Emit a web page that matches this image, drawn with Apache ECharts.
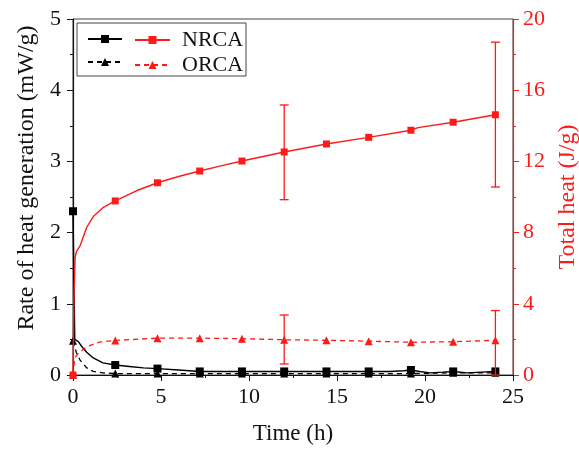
<!DOCTYPE html>
<html>
<head>
<meta charset="utf-8">
<script src="https://cdn.jsdelivr.net/npm/echarts@6/dist/echarts.min.js"></script>
<style>
html,body{margin:0;padding:0;background:#fff;}
#c{width:579px;height:451px;}
</style>
</head>
<body>
<div id="c"></div>
<script>
// ---- data ----
var markerTimes = [0, 2.4, 4.8, 7.2, 9.6, 12, 14.4, 16.8, 19.2, 21.6, 24];

var nrcaRateT = [0, 0.1, 0.17, 0.3, 0.5, 0.78, 1.15, 1.7, 2.4, 3.2, 4.0, 4.8, 6.0, 7.2, 8.4, 9.6, 10.8, 12, 13.2, 14.4, 15.6, 16.8, 18.0, 18.8, 19.2, 19.7, 20.3, 21.0, 21.6, 22.4, 23.2, 24];
var nrcaRateV = [2.3, 0.5, 0.52, 0.47, 0.4, 0.32, 0.24, 0.17, 0.14, 0.12, 0.1, 0.09, 0.07, 0.05, 0.05, 0.05, 0.05, 0.05, 0.05, 0.05, 0.05, 0.05, 0.05, 0.06, 0.07, 0.05, 0.03, 0.04, 0.05, 0.03, 0.04, 0.05];

var orcaRateT = [0, 0.2, 0.4, 0.78, 1.15, 1.7, 2.4, 4.8, 7.2, 9.6, 12, 14.4, 16.8, 19.2, 21.6, 24];
var orcaRateV = [0.48, 0.31, 0.21, 0.1, 0.05, 0.03, 0.02, 0.02, 0.02, 0.02, 0.02, 0.02, 0.02, 0.02, 0.03, 0.03];

var nrcaHeatT = [0, 0.05, 0.12, 0.2, 0.4, 0.78, 1.15, 1.7, 2.4, 3.6, 4.8, 6.0, 7.2, 8.4, 9.6, 12, 14.4, 16.8, 19.2, 19.6, 21.6, 24];
var nrcaHeatV = [0, 4.2, 6.6, 6.95, 7.25, 8.3, 8.9, 9.4, 9.78, 10.35, 10.8, 11.15, 11.46, 11.75, 12.02, 12.53, 12.98, 13.35, 13.75, 13.9, 14.2, 14.62];

var orcaHeatT = [0, 0.1, 0.3, 0.78, 1.5, 2.4, 4.8, 7.2, 9.6, 12, 14.4, 16.8, 19.2, 21.6, 24];
var orcaHeatV = [0, 0.95, 1.22, 1.59, 1.85, 1.94, 2.07, 2.07, 2.04, 1.98, 1.95, 1.9, 1.84, 1.87, 1.95];

// error bars: time, low, high (total heat)
var nrcaErrT = [12, 24];
var nrcaErrLow = [9.85, 10.56];
var nrcaErrHigh = [15.17, 18.7];
var orcaErrT = [12, 24];
var orcaErrLow = [0.62, 0];
var orcaErrHigh = [3.37, 3.62];

// ---- build ----
function pts(ts, vs) {
  return ts.map(function (t, i) {
    var d = { value: [t, vs[i]] };
    if (markerTimes.indexOf(t) < 0) d.symbol = 'none';
    return d;
  });
}
function errs(ts, lo, hi) {
  return ts.map(function (t, i) { return [t, lo[i], hi[i]]; });
}
var FONT = 'Liberation Serif';
var RED = '#ff1a1a';

function errRender(params, api) {
  var x = api.value(0);
  var pLo = api.coord([x, api.value(1)]);
  var pHi = api.coord([x, api.value(2)]);
  var w = 4.5;
  var st = { stroke: RED, lineWidth: 1.3 };
  return {
    type: 'group',
    children: [
      { type: 'line', shape: { x1: pLo[0], y1: pLo[1], x2: pHi[0], y2: pHi[1] }, style: st },
      { type: 'line', shape: { x1: pHi[0] - w, y1: pHi[1], x2: pHi[0] + w, y2: pHi[1] }, style: st },
      { type: 'line', shape: { x1: pLo[0] - w, y1: pLo[1], x2: pLo[0] + w, y2: pLo[1] }, style: st }
    ]
  };
}

var chart = echarts.init(document.getElementById('c'), null, { renderer: 'canvas' });
var option = {
  animation: false,
  backgroundColor: '#fff',
  textStyle: { fontFamily: FONT },
  grid: { left: 73, right: 66, top: 19, bottom: 76, outerBoundsMode: 'none', containLabel: false, show: true, borderColor: '#444', borderWidth: 1, backgroundColor: 'transparent' },
  legend: [
    {
      data: ['NRCA rate', 'ORCA rate'],
      orient: 'vertical', left: 77, top: 23,
      padding: [12, 119, 10, 10],
      itemWidth: 34, itemHeight: 10, itemGap: 15,
      borderColor: '#444', borderWidth: 1,
      selectedMode: false,
      formatter: function () { return ''; },
      textStyle: { fontSize: 10, lineHeight: 10, fontFamily: FONT }
    },
    {
      data: ['NRCA', 'ORCA'],
      orient: 'vertical', left: 130, top: 23,
      padding: [6, 4, 4, 4],
      itemWidth: 35, itemHeight: 10, itemGap: 3,
      selectedMode: false,
      textStyle: { fontSize: 22, lineHeight: 22, fontFamily: FONT, color: '#111', padding: [0, 0, 0, 7] }
    }
  ],
  xAxis: {
    type: 'value', min: 0, max: 25, interval: 5,
    name: 'Time (h)', nameLocation: 'middle', nameGap: 47,
    nameTextStyle: { fontSize: 23, fontFamily: FONT, color: '#111' },
    axisLine: { lineStyle: { color: '#111', width: 1.2 } },
    axisTick: { show: true, inside: false, length: 6, lineStyle: { color: '#111' } },
    minorTick: { show: true, splitNumber: 2, length: 3, lineStyle: { color: '#111' } },
    axisLabel: { fontSize: 22, fontFamily: FONT, color: '#111', margin: 11 },
    splitLine: { show: false }
  },
  yAxis: [
    {
      type: 'value', min: 0, max: 5, interval: 1, position: 'left',
      name: 'Rate of heat generation (mW/g)', nameLocation: 'middle', nameGap: 32,
      nameTextStyle: { fontSize: 24, fontFamily: FONT, color: '#111', padding: [0, 0, 0, 38] },
      axisLine: { show: true, lineStyle: { color: '#111', width: 1.2 } },
      axisTick: { show: true, inside: false, length: 6, lineStyle: { color: '#111' } },
      minorTick: { show: true, splitNumber: 2, length: 3, lineStyle: { color: '#111' } },
      axisLabel: { fontSize: 22, fontFamily: FONT, color: '#111', margin: 12 },
      splitLine: { show: false }
    },
    {
      type: 'value', min: 0, max: 20, interval: 4, position: 'right',
      name: 'Total heat (J/g)', nameLocation: 'middle', nameGap: 42,
      nameTextStyle: { fontSize: 24, fontFamily: FONT, color: RED },
      axisLine: { show: true, lineStyle: { color: RED, width: 1.2 } },
      axisTick: { show: true, inside: false, length: 6, lineStyle: { color: RED } },
      minorTick: { show: true, splitNumber: 2, length: 3, lineStyle: { color: RED } },
      axisLabel: { fontSize: 22, fontFamily: FONT, color: RED, margin: 10 },
      splitLine: { show: false }
    }
  ],
  series: [
    {
      name: 'NRCA rate', type: 'line', yAxisIndex: 0,
      data: pts(nrcaRateT, nrcaRateV),
      symbol: 'rect', symbolSize: 8, showAllSymbol: true, clip: false,
      lineStyle: { color: '#000', width: 1.4 },
      itemStyle: { color: '#000' }, z: 3
    },
    {
      name: 'ORCA rate', type: 'line', yAxisIndex: 0,
      data: pts(orcaRateT, orcaRateV),
      symbol: 'triangle', symbolSize: 8, showAllSymbol: true, clip: false,
      lineStyle: { color: '#000', width: 1.3, type: [5, 4] },
      itemStyle: { color: '#000' }, z: 2
    },
    {
      name: 'NRCA', type: 'line', yAxisIndex: 1,
      data: pts(nrcaHeatT, nrcaHeatV),
      symbol: 'rect', symbolSize: 7, showAllSymbol: true, clip: false,
      lineStyle: { color: RED, width: 1.4 },
      itemStyle: { color: RED }, z: 4
    },
    {
      name: 'ORCA', type: 'line', yAxisIndex: 1,
      data: pts(orcaHeatT, orcaHeatV),
      symbol: 'triangle', symbolSize: 8, showAllSymbol: true, clip: false,
      lineStyle: { color: RED, width: 1.3, type: [5, 4] },
      itemStyle: { color: RED }, z: 4
    },
    {
      name: 'NRCA err', type: 'custom', yAxisIndex: 1,
      renderItem: errRender, encode: { x: 0, y: [1, 2] },
      data: errs(nrcaErrT, nrcaErrLow, nrcaErrHigh), z: 5
    },
    {
      name: 'ORCA err', type: 'custom', yAxisIndex: 1,
      renderItem: errRender, encode: { x: 0, y: [1, 2] },
      data: errs(orcaErrT, orcaErrLow, orcaErrHigh), z: 5
    }
  ]
};
chart.setOption(option);
</script>
</body>
</html>
